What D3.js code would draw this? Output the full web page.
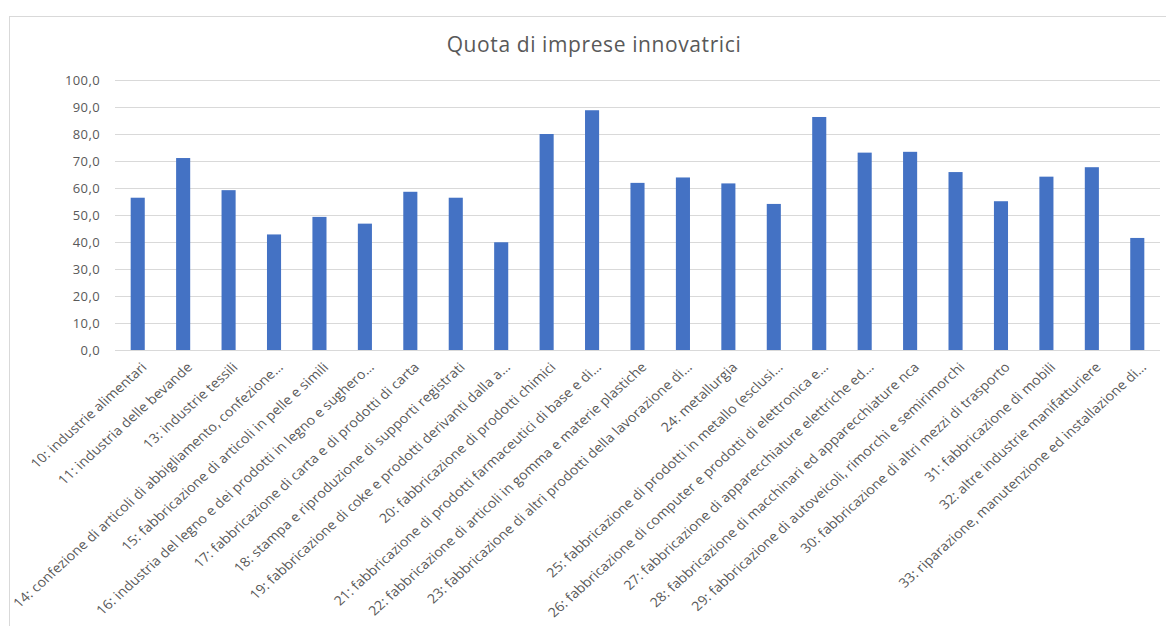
<!DOCTYPE html>
<html>
<head>
<meta charset="utf-8">
<script src="https://cdn.jsdelivr.net/npm/d3@7"></script>
<style>
  html, body { margin: 0; padding: 0; background: #fff; }
  svg { display: block; }
  text { font-family: "Open Sans", "Noto Sans", sans-serif; fill: #595959; }
</style>
</head>
<body>
<svg id="chart" width="1166" height="626"></svg>
<script>
// Settori manifatturieri (ATECO) e quota di imprese innovatrici (%)
const categories = [
  "10: industrie alimentari",
  "11: industria delle bevande",
  "13: industrie tessili",
  "14: confezione di articoli di abbigliamento, confezione…",
  "15: fabbricazione di articoli in pelle e simili",
  "16: industria del legno e dei prodotti in legno e sughero…",
  "17: fabbricazione di carta e di prodotti di carta",
  "18: stampa e riproduzione di supporti registrati",
  "19: fabbricazione di coke e prodotti derivanti dalla a…",
  "20: fabbricazione di prodotti chimici",
  "21: fabbricazione di prodotti farmaceutici di base e di…",
  "22: fabbricazione di articoli in gomma e materie plastiche",
  "23: fabbricazione di altri prodotti della lavorazione di…",
  "24: metallurgia",
  "25: fabbricazione di prodotti in metallo (esclusi…",
  "26: fabbricazione di computer e prodotti di elettronica e…",
  "27: fabbricazione di apparecchiature elettriche ed…",
  "28: fabbricazione di macchinari ed apparecchiature nca",
  "29: fabbricazione di autoveicoli, rimorchi e semirimorchi",
  "30: fabbricazione di altri mezzi di trasporto",
  "31: fabbricazione di mobili",
  "32: altre industrie manifatturiere",
  "33: riparazione, manutenzione ed installazione di…"
];

const quota = [
  56.4, 71.1, 59.2, 42.8, 49.3, 46.8, 58.6, 56.4, 39.9, 80.0, 88.8, 61.9,
  63.9, 61.7, 54.1, 86.3, 73.1, 73.4, 65.9, 55.1, 64.2, 67.7, 41.5
];

const yTicks = [0, 10, 20, 30, 40, 50, 60, 70, 80, 90, 100];
const title = "Quota di imprese innovatrici";

const svg = d3.select("#chart");

// Cornice dell'area grafico
svg.append("rect")
  .attr("x", 9.5).attr("y", 16.5)
  .attr("width", 1170).attr("height", 620)
  .attr("fill", "#fff")
  .attr("stroke", "#d9d9d9").attr("stroke-width", 1);

const plot = { left: 115, right: 1160, top: 80, bottom: 350 };

const x = d3.scaleBand()
  .domain(categories)
  .range([plot.left, plot.right])
  .paddingInner(0.69)
  .paddingOuter(0.345);

const y = d3.scaleLinear()
  .domain([0, 100])
  .range([plot.bottom, plot.top]);

// Titolo
svg.append("text")
  .attr("x", 594).attr("y", 52)
  .attr("text-anchor", "middle")
  .style("font-size", "21px")
  .style("letter-spacing", "0.6px")
  .text(title);

// Griglia orizzontale ed etichette dell'asse Y
const yAxis = d3.axisLeft(y)
  .tickValues(yTicks)
  .tickSize(-(plot.right - plot.left))
  .tickPadding(15)
  .tickFormat(d => d3.format(".1f")(d).replace(".", ","));

const gy = svg.append("g")
  .attr("transform", `translate(${plot.left},0)`)
  .call(yAxis);
gy.select(".domain").remove();
gy.selectAll(".tick line").attr("stroke", "#d9d9d9").attr("stroke-width", 1);
gy.selectAll(".tick text")
  .attr("fill", "#595959")
  .style("font-size", "13px")
  .style("letter-spacing", "0.4px")
  .style("font-family", "'Open Sans', sans-serif");

// Barre
svg.append("g")
  .selectAll("rect")
  .data(quota)
  .join("rect")
  .attr("x", (d, i) => x(categories[i]))
  .attr("width", x.bandwidth())
  .attr("y", d => y(d))
  .attr("height", d => y(0) - y(d))
  .attr("fill", "#4472c4");

// Asse X con etichette ruotate (leggermente allargate in orizzontale)
const xAxis = d3.axisBottom(x).tickSize(0).tickPadding(0);
const gx = svg.append("g")
  .attr("transform", `translate(0,${plot.bottom})`)
  .call(xAxis);
gx.select(".domain").attr("stroke", "#d9d9d9").attr("d", `M${plot.left},0.5H${plot.right}`);
gx.selectAll(".tick text")
  .attr("fill", "#595959")
  .style("font-size", "13px")
  .style("letter-spacing", "0.1px")
  .style("font-family", "'Open Sans', sans-serif")
  .attr("text-anchor", "end")
  .attr("dy", "0")
  .attr("y", 0)
  .attr("transform", "translate(10,18) scale(1.1,1) rotate(-45)");
</script>
</body>
</html>
